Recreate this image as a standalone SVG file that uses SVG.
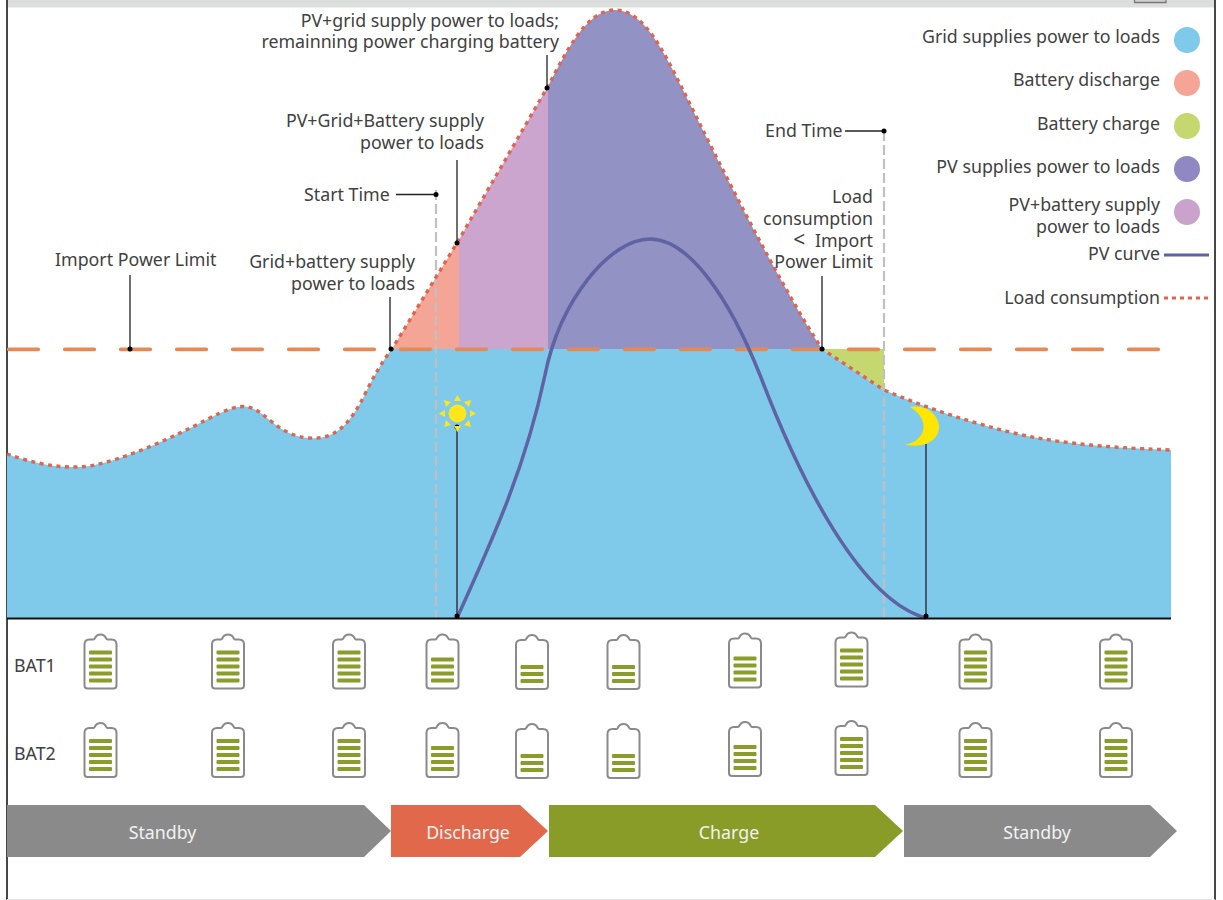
<svg xmlns="http://www.w3.org/2000/svg" xmlns:xlink="http://www.w3.org/1999/xlink" width="1223" height="900" viewBox="0 0 1223 900">
<style>
text{font-family:"Noto Sans","Open Sans","Liberation Sans",sans-serif;font-size:17.8px;fill:#414141}
.e{text-anchor:end}.w{fill:#f2f2f2;text-anchor:middle}
.lead{stroke:#222;stroke-width:1.3;fill:none}
.dot{fill:#000}
.v{stroke:#c0c0c0;stroke-width:2.2;stroke-dasharray:10 4;fill:none}
.bb{fill:#fff;stroke:#8a8a8a;stroke-width:2}
.bar{fill:#8a9c2a}
</style>
<defs>
<path id="load" d="M7,454 C30,462 60,470 90,466 C130,458 175,436 208,419 C225,410 238,405 248,407 C265,410 278,436 309,438 C335,440 350,425 366,392 C374,376 383,360 392,349 L457,243 L547,88 C565,55 585,10 615,10 C645,10 665,55 683,90 C720,165 780,285 822,349 L884,390 C915,403 945,414 980,424 C1020,436 1050,441 1090,445 C1120,448 1150,449 1171,450"/>
<clipPath id="under"><path d="M7,454 C30,462 60,470 90,466 C130,458 175,436 208,419 C225,410 238,405 248,407 C265,410 278,436 309,438 C335,440 350,425 366,392 C374,376 383,360 392,349 L457,243 L547,88 C565,55 585,10 615,10 C645,10 665,55 683,90 C720,165 780,285 822,349 L884,390 C915,403 945,414 980,424 C1020,436 1050,441 1090,445 C1120,448 1150,449 1171,450 L1171,618 L7,618 Z"/></clipPath>
<g id="b5"><use xlink:href="#bo"/><use xlink:href="#b4"/><rect class="bar" x="-11.5" y="-38" width="23" height="4" rx="1"/></g>
<g id="b4"><use xlink:href="#b3x"/><rect class="bar" x="-11.5" y="-31" width="23" height="4" rx="1"/></g>
<g id="b3x"><rect class="bar" x="-11.5" y="-24" width="23" height="4" rx="1"/><rect class="bar" x="-11.5" y="-17" width="23" height="4" rx="1"/><rect class="bar" x="-11.5" y="-10" width="23" height="4" rx="1"/></g>
<path id="bo" class="bb" d="M-13,0 Q-16,0 -16,-3 L-16,-44 Q-16,-49 -11,-49 L-7,-49 C-5,-49 -6,-54 0,-54 C6,-54 5,-49 7,-49 L11,-49 Q16,-49 16,-44 L16,-3 Q16,0 13,0 Z"/>
</defs>

<g id="frame">
<rect x="7" y="0" width="1208" height="7.500" fill="#dcdedd"/>
<path d="M1134.500,0 V2.500 H1166 V0" fill="#d0d0d0" stroke="#777" stroke-width="1.300"/>
<path d="M7,0 V900 M1215,0 V900" stroke="#333" stroke-width="1.800" fill="none"/>
<path d="M7,899.500 H1215" stroke="#e6e6e6" stroke-width="1" fill="none"/>
</g>

<g id="areas" clip-path="url(#under)">
<rect x="7" y="349" width="1164" height="269" fill="#7fcaea"/>
<rect x="385" y="0" width="74" height="349" fill="#f4a595"/>
<rect x="459" y="0" width="89" height="349" fill="#cba5cd"/>
<rect x="548" y="0" width="276" height="349" fill="#9392c4"/>
</g>
<path id="charge-area" d="M822,349 H884 V390 Z" fill="#c5d76f"/>

<g id="limit-line"><path d="M8.750,349.300 H1160" stroke="#e58a55" stroke-width="3.800" stroke-linecap="round" stroke-dasharray="29.500 26.500" fill="none"/></g>
<g id="time-lines"><path class="v" d="M436,190 V618"/><path class="v" d="M884,131 V618"/></g>
<g id="pv-curve"><path d="M457,618 C490,545 525,470 545,375 C560,300 610,239 650,239 C690,239 730,300 760,375 C800,480 860,600 926,618" fill="none" stroke="#5f62a3" stroke-width="3.500"/></g>
<g id="load-curve"><use xlink:href="#load" fill="none" stroke="#e0654e" stroke-width="3.400" stroke-dasharray="4 4.500"/></g>
<path id="axis" d="M7,618.500 H1171" stroke="#111" stroke-width="2.200" fill="none"/>

<g id="connectors">
<path class="lead" d="M130,275 V349"/><circle class="dot" cx="130" cy="349" r="2.500"/>
<path class="lead" d="M390,297 V349"/><circle class="dot" cx="391" cy="349" r="2.500"/>
<path class="lead" d="M457,160 V243"/><circle class="dot" cx="457" cy="243" r="2.500"/>
<path class="lead" d="M547,55 V88"/><circle class="dot" cx="547" cy="88" r="2.500"/>
<path class="lead" d="M396,194.500 H435"/><circle class="dot" cx="436" cy="194.500" r="2.500"/>
<path class="lead" d="M845,131 H884"/><circle class="dot" cx="884" cy="131" r="2.500"/>
<path class="lead" d="M822,276 V349"/><circle class="dot" cx="822" cy="349" r="2.500"/>
<path class="lead" d="M457,427 V618"/><circle class="dot" cx="457" cy="427" r="2.500"/><circle class="dot" cx="457" cy="616" r="2.500"/>
<path class="lead" d="M926,444 V618"/><circle class="dot" cx="926" cy="616" r="2.500"/>
</g>

<g id="sun" fill="#ffe61a">
<circle cx="457.500" cy="413.500" r="9"/>
<path d="M457.500,395 L461,401 H454 Z M457.500,432 L461,426 H454 Z M439,413.500 L445,410 V417 Z M476,413.500 L470,410 V417 Z M444,400 L451,402 L446,407 Z M471,400 L464,402 L469,407 Z M444,427 L451,425 L446,420 Z M471,427 L464,425 L469,420 Z"/>
</g>
<g id="moon"><path d="M910,407 C930,404 939,418 939,427 C939,440 925,449 905,444.500 C925,442 932,420 910,407 Z" fill="#ffe600"/></g>

<g id="labels">
<text class="e" x="559" y="26.500">PV+grid supply power to loads;</text>
<text class="e" x="559" y="48">remainning power charging battery</text>
<text class="e" x="484" y="127">PV+Grid+Battery supply</text>
<text class="e" x="484" y="149">power to loads</text>
<text x="304" y="201">Start Time</text>
<text x="55" y="265.500">Import Power Limit</text>
<text class="e" x="415" y="268">Grid+battery supply</text>
<text class="e" x="415" y="290">power to loads</text>
<text x="765" y="137">End Time</text>
<text class="e" x="873" y="202.500">Load</text>
<text class="e" x="873" y="224.500">consumption</text>
<text class="e" x="873" y="246.500"><tspan font-size="21">&lt;</tspan><tspan dx="5"> Import</tspan></text>
<text class="e" x="873" y="267.500">Power Limit</text>
</g>

<g id="legend">
<text class="e" x="1160" y="42.500">Grid supplies power to loads</text><circle cx="1187" cy="40" r="13" fill="#7fcaea"/>
<text class="e" x="1160" y="85.500">Battery discharge</text><circle cx="1187" cy="83" r="13" fill="#f4a595"/>
<text class="e" x="1160" y="129.500">Battery charge</text><circle cx="1187" cy="126" r="13" fill="#c5d76f"/>
<text class="e" x="1160" y="172.500">PV supplies power to loads</text><circle cx="1187" cy="169" r="13" fill="#8f88c2"/>
<text class="e" x="1160" y="210.500">PV+battery supply</text>
<text class="e" x="1160" y="232.500">power to loads</text><circle cx="1187" cy="212" r="13" fill="#c9a3cc"/>
<text class="e" x="1160" y="260">PV curve</text><path d="M1164,255 H1209" stroke="#5f62a3" stroke-width="3"/>
<text class="e" x="1160" y="303.500">Load consumption</text><path d="M1164,298 H1210" stroke="#e0654e" stroke-width="3" stroke-dasharray="4 4"/>
</g>

<g id="batteries">
<text x="14" y="672">BAT1</text><text x="14" y="760">BAT2</text>
<g id="bat1">
<g transform="translate(100.500,688.500)"><use xlink:href="#b5"/></g>
<g transform="translate(228,688.500)"><use xlink:href="#b5"/></g>
<g transform="translate(349,688.500)"><use xlink:href="#b5"/></g>
<g transform="translate(442.500,688.500)"><use xlink:href="#bo"/><use xlink:href="#b4"/></g>
<g transform="translate(532,689)"><use xlink:href="#bo"/><use xlink:href="#b3x"/></g>
<g transform="translate(623.500,689)"><use xlink:href="#bo"/><use xlink:href="#b3x"/></g>
<g transform="translate(745,687.500)"><use xlink:href="#bo"/><use xlink:href="#b4"/></g>
<g transform="translate(851.500,686.500)"><use xlink:href="#b5"/></g>
<g transform="translate(975.500,688.500)"><use xlink:href="#b5"/></g>
<g transform="translate(1116,688.500)"><use xlink:href="#b5"/></g>
</g>
<g id="bat2">
<g transform="translate(100.500,777)"><use xlink:href="#b5"/></g>
<g transform="translate(228,777)"><use xlink:href="#b5"/></g>
<g transform="translate(349,777)"><use xlink:href="#b5"/></g>
<g transform="translate(442.500,777)"><use xlink:href="#bo"/><use xlink:href="#b4"/></g>
<g transform="translate(532,778)"><use xlink:href="#bo"/><use xlink:href="#b3x"/></g>
<g transform="translate(623.500,778)"><use xlink:href="#bo"/><use xlink:href="#b3x"/></g>
<g transform="translate(745,776)"><use xlink:href="#bo"/><use xlink:href="#b4"/></g>
<g transform="translate(851.500,775)"><use xlink:href="#b5"/></g>
<g transform="translate(975.500,777)"><use xlink:href="#b5"/></g>
<g transform="translate(1116,777)"><use xlink:href="#b5"/></g>
</g>
</g>

<g id="state-standby-1"><path d="M7,805 H364 L391,831 L364,857 H7 Z" fill="#8a8a8a"/><text class="w" x="162.500" y="838.500">Standby</text></g>
<g id="state-discharge"><path d="M391,805 H520 L548,831 L520,857 H391 Z" fill="#e2684c"/><text class="w" x="468" y="838.500">Discharge</text></g>
<g id="state-charge"><path d="M549,805 H875 L903,831 L875,857 H549 Z" fill="#899c28"/><text class="w" x="729" y="838.500">Charge</text></g>
<g id="state-standby-2"><path d="M904,805 H1150 L1177,831 L1150,857 H904 Z" fill="#8a8a8a"/><text class="w" x="1037" y="838.500">Standby</text></g>
</svg>
